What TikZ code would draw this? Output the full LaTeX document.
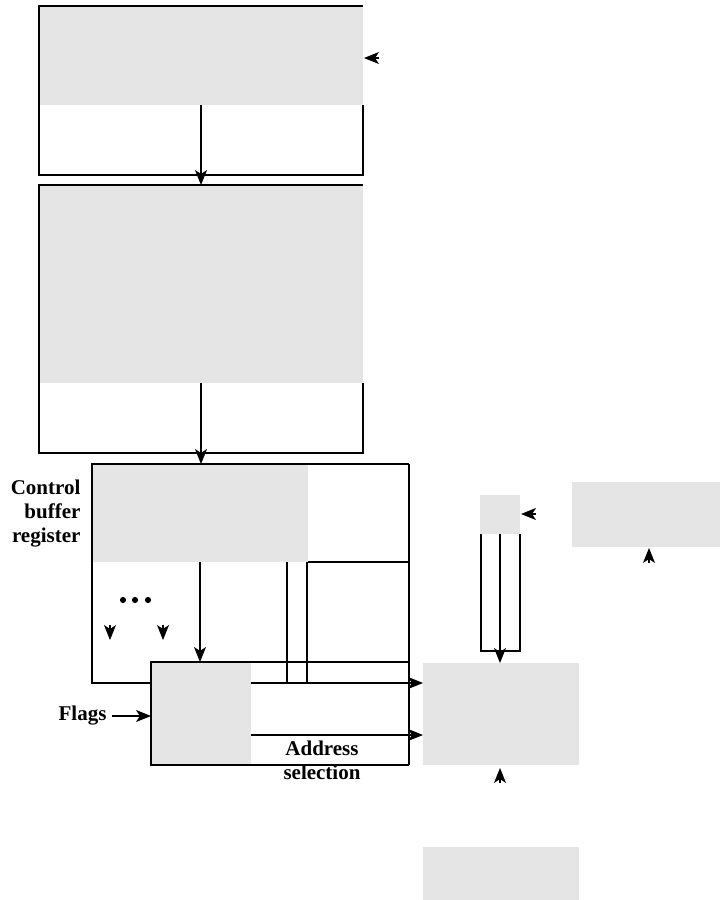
\documentclass[tikz,border=0pt]{standalone}
\usepackage{fontspec}
\setmainfont{Liberation Serif}
\usetikzlibrary{arrows.meta}
\definecolor{boxgray}{RGB}{229,229,229}
\begin{document}
\begin{tikzpicture}[x=1pt,y=-1pt, line width=1.1pt,
  gbox/.style={fill=boxgray, draw=none, inner sep=0pt, outer sep=0pt, anchor=north west},
  arr/.style={-{Stealth[length=15pt,width=12pt,inset=4pt]}},
  lbl/.style={font=\fontsize{21}{24}\selectfont\bfseries, inner sep=0pt}]
\useasboundingbox (0,0) rectangle (720,900);
% gray blocks
\node[gbox, minimum width=324pt, minimum height=99pt] (mem1) at (39,6) {};
\node[gbox, minimum width=324pt, minimum height=198pt] (mem2) at (39,185) {};
\node[gbox, minimum width=216pt, minimum height=98pt] (cbr) at (92,464) {};
\node[gbox, minimum width=40pt, minimum height=39pt] (car) at (480,495) {};
\node[gbox, minimum width=148pt, minimum height=65pt] (rt) at (572,482) {};
\node[gbox, minimum width=156pt, minimum height=102pt] (cm) at (423,663) {};
\node[gbox, minimum width=156pt, minimum height=53pt] (bot) at (423,847) {};
% frames
\draw (363,105) -- (363,175) -- (39,175) -- (39,6) -- (363,6);
\draw (363,383) -- (363,453) -- (39,453) -- (39,185) -- (363,185);
\draw (409,464) -- (409,765);
\draw (308,562) -- (409,562);
\draw (287,562) -- (287,683);
\draw (307,562) -- (307,683);
\draw (481,534) -- (481,651) -- (520,651) -- (520,534);
\coordinate (yA) at (0,683);
\coordinate (yB) at (0,735);
\draw[arr] (409,464) -- (cbr.north west) -- (cbr.west |- yA) -- (cm.west |- yA);
% sequencing logic
\node[gbox, minimum width=100pt, minimum height=103pt] (seq) at (151,662) {};
\draw (409,662) -- (seq.north west) -- (seq.south west) -- (409,765);
% connectors
\draw[arr] (mem1.south) -- (mem2.north);
\draw[arr] (mem2.south) -- (mem2.south |- cbr.north);
\draw[arr] (cbr.south) -- (cbr.south |- seq.north);
\draw[arr] (car.south) -- (car.south |- cm.north);
\draw[arr] (seq.east |- yB) -- (cm.west |- yB);
% labels
\node[lbl, align=right, anchor=east] (cbrlbl) at (81,514) {Control\\buffer\\register};
\node[lbl, anchor=east] (flags) at (107,716) {Flags};
\draw[arr] ([xshift=5pt]flags.east) -- (flags.east -| seq.west);
\node[lbl, align=center, anchor=north] (addr) at (322,740) {Address\\selection};
% dots
\foreach \xx in {123,135,148} \fill (\xx,600) circle (3.1pt);
% free arrowheads
\coordinate (a1s) at (379,58);  \coordinate (a1e) at (364,58);
\coordinate (a2s) at (536,514); \coordinate (a2e) at (521,514);
\coordinate (a3s) at (649,563); \coordinate (a3e) at (649,548);
\coordinate (a4s) at (500,783); \coordinate (a4e) at (500,768);
\coordinate (a5s) at (110,625); \coordinate (a5e) at (110,640);
\coordinate (a6s) at (163,625); \coordinate (a6e) at (163,640);
\foreach \k in {1,...,6} \draw[arr] (a\k s) -- (a\k e);
\end{tikzpicture}
\end{document}
